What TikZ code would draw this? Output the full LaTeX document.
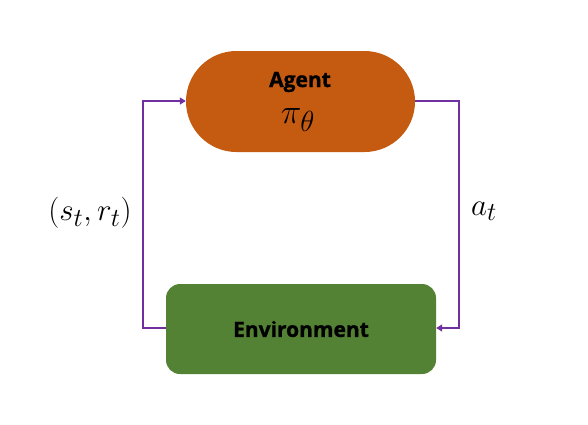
\documentclass[tikz,border=0pt]{standalone}
\usepackage{graphicx}
\usepackage{fontspec}
\setsansfont{Open Sans}[FakeBold=1.2]
\usetikzlibrary{arrows.meta,shapes.misc}
\definecolor{agentc}{HTML}{C55A11}
\definecolor{envc}{HTML}{548235}
\definecolor{linkc}{HTML}{7030A0}
\tikzset{
  agentbox/.style={fill=agentc, draw=none, rounded rectangle, minimum width=229pt, minimum height=101pt, inner sep=0pt},
  envbox/.style={fill=envc, draw=none, rounded corners=14pt, minimum width=270pt, minimum height=90pt, inner sep=0pt},
  link/.style={draw=linkc, line width=1.3pt, -{Triangle[length=6pt,width=7pt]}},
  lbl/.style={font=\sffamily\bfseries\fontsize{21}{24}\selectfont, text=black},
  mathlbl/.style={font=\fontsize{24.88}{30}\selectfont, text=black}
}
\begin{document}
\begin{tikzpicture}[x=1pt,y=-1pt]
\useasboundingbox (0,0) rectangle (588,424);
\node[agentbox] (agent) at (300.5,101.5) {};
\node[envbox] (env) at (301,329) {};
\node[lbl] (agenttxt) at (300,82) {Agent};
\node[mathlbl] (pi) at (298,120) {\scalebox{1.4}{$\pi_\theta$}};
\node[lbl] (envtxt) at (301,329) {Environment};
\coordinate (lt) at (143,101);
\coordinate (lb) at (143,328);
\coordinate (rt) at (459,101);
\coordinate (rb) at (459,328);
\draw[link] (env.west |- lb) -- (lb) -- (lt) -- (agent.west |- lt);
\draw[link] (agent.east |- rt) -- (rt) -- (rb) -- (env.east |- rb);
\node[mathlbl] (st) at (90,213) {\scalebox{1.25}{$(s_t,r_t)$}};
\node[mathlbl] (at) at (484,211) {\scalebox{1.25}{$a_t$}};
\end{tikzpicture}
\end{document}
